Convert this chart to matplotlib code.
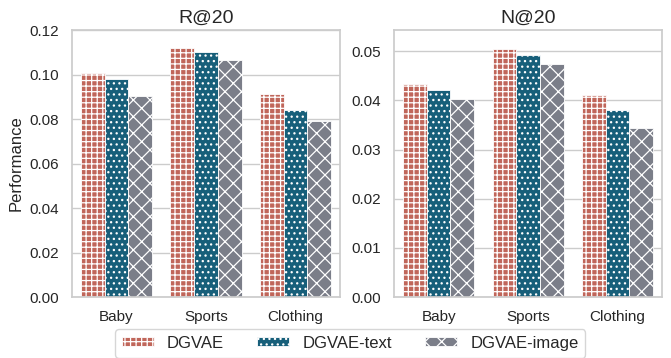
import numpy as np
import matplotlib.pyplot as plt
import seaborn as sns

sns.set_theme(style="whitegrid")
plt.rcParams['font.family'] = ['Liberation Sans', 'DejaVu Sans']
plt.rcParams['hatch.color'] = 'white'
plt.rcParams['hatch.linewidth'] = 0.9

datasets = ['Baby', 'Sports', 'Clothing']
variants = ['DGVAE', 'DGVAE-text', 'DGVAE-image']
recall = [
    [0.1005, 0.1120, 0.0915],   # DGVAE
    [0.0980, 0.1100, 0.0840],   # DGVAE-text
    [0.0905, 0.1065, 0.0790],   # DGVAE-image
]
ndcg = [
    [0.0433, 0.0505, 0.0411],
    [0.0422, 0.0492, 0.0381],
    [0.0402, 0.0474, 0.0343],
]
colors = ['#c0665a', '#175f7a', '#7b7e89']
hatches = ['+++', '...', 'xx']

fig, axes = plt.subplots(1, 2, figsize=(6.71, 3.58), dpi=100)
x = np.arange(len(datasets))
width = 0.265

for ax, vals, title, top in zip(axes, [recall, ndcg], ['R@20', 'N@20'], [0.12, 0.0543]):
    for i, (v, c, h) in enumerate(zip(vals, colors, hatches)):
        ax.bar(x + (i - 1) * width, v, width, color=c, hatch=h,
               edgecolor='white', linewidth=0.6, label=variants[i])
    ax.set_xticks(x)
    ax.set_xticklabels(datasets, fontsize=11)
    ax.set_title(title, fontsize=14, pad=5)
    ax.set_ylim(0, top)
    ax.set_xlim(-0.5, 2.5)
    ax.grid(axis='x', visible=False)
    ax.tick_params(axis='y', labelsize=11)
    for s in ax.spines.values():
        s.set_color('#cccccc')

axes[0].set_ylabel('Performance', fontsize=12)

handles, labels = axes[0].get_legend_handles_labels()
fig.legend(handles, labels, loc='lower center', ncol=3, fontsize=12,
           bbox_to_anchor=(0.522, -0.022), frameon=True, columnspacing=2.0,
           handlelength=1.9, handleheight=0.45, handletextpad=0.8)

fig.subplots_adjust(left=0.107, right=0.987, top=0.916, bottom=0.17, wspace=0.2)
fig.savefig('out.png')
